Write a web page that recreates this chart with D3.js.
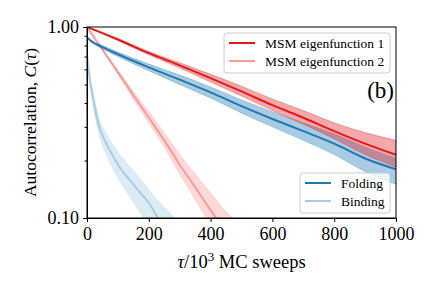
<!DOCTYPE html>
<html>
<head>
<meta charset="utf-8">
<script src="https://cdn.jsdelivr.net/npm/d3@7"></script>
<style>
  body { margin: 0; background: #fff; }
  svg text { font-family: "Liberation Serif", "DejaVu Serif", serif; fill: #000; }
</style>
</head>
<body>
<div id="chart"></div>
<script>
// MSM eigenfunction 1
const eig1Tau = [0, 100, 200, 300, 400, 500, 600, 700, 800, 900, 1000];
const eig1Mean = [1.0, 0.86, 0.73, 0.63, 0.54, 0.46, 0.39, 0.335, 0.285, 0.245, 0.214];
const eig1Lo = [1.0, 0.85, 0.715, 0.61, 0.515, 0.435, 0.365, 0.31, 0.26, 0.215, 0.185];
const eig1Hi = [1.0, 0.87, 0.745, 0.65, 0.565, 0.49, 0.42, 0.365, 0.315, 0.28, 0.255];

// MSM eigenfunction 2
const eig2Tau = [0, 50, 100, 150, 200, 250, 300, 350, 400, 450, 500];
const eig2Mean = [1.0, 0.76, 0.58, 0.44, 0.335, 0.255, 0.19, 0.145, 0.11, 0.085, 0.066];
const eig2Lo = [1.0, 0.75, 0.565, 0.42, 0.315, 0.235, 0.17, 0.125, 0.092, 0.07, 0.055];
const eig2Hi = [1.0, 0.77, 0.595, 0.46, 0.36, 0.28, 0.215, 0.17, 0.135, 0.108, 0.09];

// Folding
const foldTau = [0, 20, 50, 100, 200, 300, 400, 500, 600, 700, 800, 900, 1000];
const foldMean = [0.88, 0.83, 0.785, 0.72, 0.615, 0.53, 0.455, 0.385, 0.33, 0.285, 0.245, 0.205, 0.18];
const foldLo = [0.88, 0.82, 0.77, 0.7, 0.59, 0.5, 0.425, 0.355, 0.3, 0.255, 0.215, 0.175, 0.15];
const foldHi = [0.88, 0.84, 0.8, 0.74, 0.64, 0.56, 0.485, 0.415, 0.36, 0.315, 0.275, 0.235, 0.205];

// Binding
const bindTau = [0, 5, 10, 20, 40, 60, 85, 110, 140, 170, 200, 230, 260, 290, 320];
const bindMean = [0.72, 0.6, 0.52, 0.42, 0.3, 0.25, 0.21, 0.18, 0.157, 0.137, 0.12, 0.1, 0.086, 0.074, 0.064];
const bindLo = [0.72, 0.58, 0.49, 0.385, 0.27, 0.22, 0.18, 0.152, 0.128, 0.108, 0.092, 0.078, 0.066, 0.056, 0.048];
const bindHi = [0.72, 0.62, 0.55, 0.455, 0.33, 0.28, 0.24, 0.21, 0.185, 0.162, 0.14, 0.123, 0.11, 0.097, 0.086];

const xTicks = [0, 200, 400, 600, 800, 1000];
const yMajor = [0.1, 1.0];
const yMinor = [0.2, 0.3, 0.4, 0.5, 0.6, 0.7, 0.8, 0.9];

const series = [
  { name: 'MSM eigenfunction 2', tau: eig2Tau, mean: eig2Mean, lo: eig2Lo, hi: eig2Hi, color: '#fb9a99' },
  { name: 'Binding', tau: bindTau, mean: bindMean, lo: bindLo, hi: bindHi, color: '#a6cee3' },
  { name: 'Folding', tau: foldTau, mean: foldMean, lo: foldLo, hi: foldHi, color: '#1f78b4' },
  { name: 'MSM eigenfunction 1', tau: eig1Tau, mean: eig1Mean, lo: eig1Lo, hi: eig1Hi, color: '#e31a1c' }
];

const width = 436, height = 291;
const margin = { top: 27, right: 40, bottom: 73, left: 87 };
const w = width - margin.left - margin.right;
const h = height - margin.top - margin.bottom;

const svg = d3.select('#chart').append('svg')
  .attr('width', width)
  .attr('height', height);

const g = svg.append('g').attr('transform', `translate(${margin.left},${margin.top})`);

const x = d3.scaleLinear().domain([0, 1000]).range([0, w]);
const y = d3.scaleLog().domain([0.1, 1]).range([h, 0]);

g.append('clipPath').attr('id', 'clip')
  .append('rect').attr('width', w).attr('height', h);

const plot = g.append('g').attr('clip-path', 'url(#clip)');

const area = d3.area()
  .x(d => x(d.t))
  .y0(d => y(d.lo))
  .y1(d => y(d.hi))
  .curve(d3.curveMonotoneX);
const line = d3.line()
  .x(d => x(d.t))
  .y(d => y(d.m))
  .curve(d3.curveMonotoneX);

series.forEach(s => {
  const pts = s.tau.map((t, i) => ({ t: t, m: s.mean[i], lo: s.lo[i], hi: s.hi[i] }));
  plot.append('path')
    .attr('d', area(pts))
    .attr('fill', s.color)
    .attr('fill-opacity', 0.38)
    .attr('stroke', s.color)
    .attr('stroke-opacity', 0.5)
    .attr('stroke-width', 0.6);
  plot.append('path')
    .attr('d', line(pts))
    .attr('fill', 'none')
    .attr('stroke', s.color)
    .attr('stroke-width', 2);
});

// axes
const xAxis = g.append('g').attr('transform', `translate(0,${h})`)
  .call(d3.axisBottom(x).tickValues(xTicks).tickFormat(d3.format('d')).tickSize(4).tickSizeOuter(0));
const yAxis = g.append('g')
  .call(d3.axisLeft(y).tickValues(yMajor).tickFormat(d3.format('.2f')).tickSize(4).tickSizeOuter(0));
g.append('g')
  .call(d3.axisLeft(y).tickValues(yMinor).tickFormat('').tickSize(2.5).tickSizeOuter(0))
  .select('.domain').remove();

[xAxis, yAxis].forEach(a => {
  a.selectAll('text').style('font-size', '18px');
  a.selectAll('line').attr('stroke', '#000');
});
xAxis.selectAll('text').attr('dy', '0.83em');
yAxis.selectAll('text').attr('dx', '-0.05em');

g.append('rect')
  .attr('width', w).attr('height', h)
  .attr('fill', 'none').attr('stroke', '#000').attr('stroke-width', 1);

// axis labels
svg.append('text')
  .attr('x', margin.left + w / 2).attr('y', 268)
  .attr('text-anchor', 'middle')
  .style('font-size', '18.5px')
  .html('<tspan font-style="italic">τ</tspan>/10<tspan dy="-7" font-size="13px">3</tspan><tspan dy="7"> MC sweeps</tspan>');

svg.append('text')
  .attr('transform', `translate(36,${margin.top + h / 2}) rotate(-90)`)
  .attr('text-anchor', 'middle')
  .style('font-size', '17.5px')
  .html('Autocorrelation, <tspan font-style="italic">C</tspan>(<tspan font-style="italic">τ</tspan>)');

// panel tag
svg.append('text')
  .attr('x', 394).attr('y', 98)
  .attr('text-anchor', 'end')
  .style('font-size', '23px')
  .text('(b)');

// legends
function legend(items, x0, y0, bw, bh) {
  const lg = svg.append('g').attr('transform', `translate(${x0},${y0})`);
  lg.append('rect')
    .attr('width', bw).attr('height', bh)
    .attr('rx', 3)
    .attr('fill', '#fff').attr('fill-opacity', 0.8)
    .attr('stroke', '#ccc').attr('stroke-width', 1);
  items.forEach((s, i) => {
    const yy = 10 + i * 18;
    lg.append('line')
      .attr('x1', 5).attr('x2', 31)
      .attr('y1', yy).attr('y2', yy)
      .attr('stroke', s.color).attr('stroke-width', 2);
    lg.append('text')
      .attr('x', 41).attr('y', yy)
      .attr('dy', '0.35em')
      .style('font-size', '13.5px')
      .text(s.name);
  });
}
legend([series[3], series[0]], 224, 33, 166, 40);
legend([series[2], series[1]], 300, 173, 90, 40);
</script>
</body>
</html>
